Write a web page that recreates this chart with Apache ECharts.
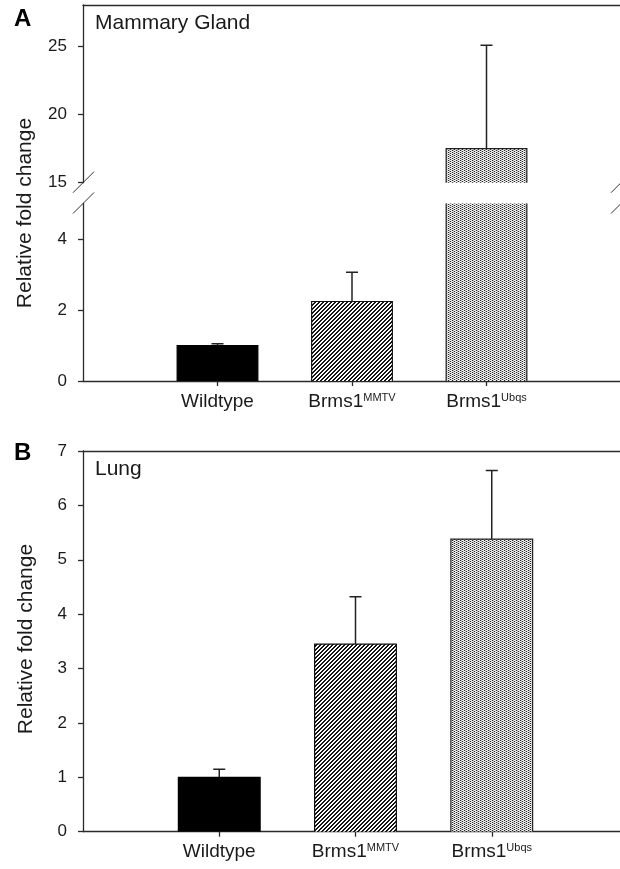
<!DOCTYPE html>
<html>
<head>
<meta charset="utf-8">
<script src="https://cdn.jsdelivr.net/npm/echarts@6/dist/echarts.min.js"></script>
<style>
  html, body { margin: 0; padding: 0; background: #fff; }
  #chart { width: 620px; height: 869px; }
</style>
</head>
<body>
<div id="chart"></div>
<script>
// ---------------- data ----------------
const categories = ['Wildtype', 'Brms1MMTV', 'Brms1Ubqs'];
const labelBase = ['Wildtype', 'Brms1', 'Brms1'];
const labelSup = ['', 'MMTV', 'Ubqs'];

const mammaryMean = [1.0, 2.24, 17.5];
const mammaryErr = [0.05, 0.82, 7.55];
const lungMean = [1.0, 3.45, 5.38];
const lungErr = [0.15, 0.87, 1.26];

const mammaryUpperTicks = [15, 20, 25];
const mammaryLowerTicks = [0, 2, 4];
const lungTicks = [0, 1, 2, 3, 4, 5, 6, 7];

const panelTitles = ['Mammary Gland', 'Lung'];
const panelLetters = ['A', 'B'];
const yTitle = 'Relative fold change';

// ---------------- styles ----------------
const FONT = '"Liberation Sans", Arial, sans-serif';
const INK = '#1a1a1a';

function makeTile(px) {
  const h = px.length, w = px[0].length;
  const c = document.createElement('canvas');
  c.width = w; c.height = h;
  const ctx = c.getContext('2d');
  const img = ctx.createImageData(w, h);
  for (let y = 0; y < h; y++) for (let x = 0; x < w; x++) {
    const v = px[y][x];
    const k = (y * w + x) * 4;
    img.data[k] = v; img.data[k + 1] = v; img.data[k + 2] = v; img.data[k + 3] = 255;
  }
  ctx.putImageData(img, 0, 0);
  return c;
}
function hatchPixels() {
  const p = [];
  for (let y = 0; y < 4; y++) {
    const row = [];
    for (let x = 0; x < 4; x++) row.push(((x + y) % 4) < 2 ? 20 : 255);
    p.push(row);
  }
  return p;
}
const stipplePixels = [
  [40, 190, 255, 215],
  [255, 190, 40, 215]
];
const barFill = [
  '#000',
  { image: makeTile(hatchPixels()), repeat: 'repeat' },
  { image: makeTile(stipplePixels), repeat: 'repeat' }
];
const barStroke = ['#000', '#111', '#222'];

const axisCats = [''].concat(categories).concat(['']);

function barData(means) {
  return categories.map((c, i) => [i + 1, means[i]]);
}
function errData(means, errs) {
  return categories.map((c, i) => [i + 1, means[i], means[i] + errs[i]]);
}
function renderBar(params, api) {
  const x = api.value(0);
  const k = Math.round(x) - 1;
  const base = api.coord([x, 0]);
  const top = api.coord([x, api.value(1)]);
  const w = api.size([1, 0])[0] * 0.6;
  const x0 = base[0] - w / 2, x1 = base[0] + w / 2;
  return {
    type: 'group',
    children: [
      { type: 'rect', shape: { x: x0, y: top[1], width: w, height: base[1] - top[1] },
        style: { fill: barFill[k] } },
      { type: 'polyline', shape: { points: [[x0, base[1]], [x0, top[1]], [x1, top[1]], [x1, base[1]]] },
        style: { fill: null, stroke: barStroke[k], lineWidth: 1.2 } }
    ]
  };
}
function renderErr(params, api) {
  const x = api.value(0);
  const p0 = api.coord([x, api.value(1)]);
  const p1 = api.coord([x, api.value(2)]);
  const st = { stroke: '#222', lineWidth: 1.5 };
  return {
    type: 'group',
    children: [
      { type: 'line', shape: { x1: p0[0], y1: p0[1], x2: p1[0], y2: p1[1] }, style: st },
      { type: 'line', shape: { x1: p1[0] - 6, y1: p1[1], x2: p1[0] + 6, y2: p1[1] }, style: st }
    ]
  };
}
function catLabel(v) {
  const i = categories.indexOf(v);
  if (i < 0) return '';
  return labelSup[i] ? '{b|' + labelBase[i] + '}{s|' + labelSup[i] + '}' : '{b|' + labelBase[i] + '}';
}
const richLabel = {
  b: { fontSize: 19, lineHeight: 21, fontFamily: FONT, color: INK },
  s: { fontSize: 11, lineHeight: 13, fontFamily: FONT, color: INK, verticalAlign: 'top', padding: [1, 0, 0, 0] }
};

const axisLineStyle = { color: '#2b2b2b', width: 1.3 };

function xBottom(gridIndex, showLabels) {
  return {
    type: 'category', gridIndex: gridIndex, data: axisCats, boundaryGap: false, position: 'bottom',
    axisLine: { show: showLabels, lineStyle: axisLineStyle },
    axisTick: { show: showLabels, length: 5, lineStyle: axisLineStyle, interval: (i, v) => v !== '' },
    axisLabel: { show: showLabels, interval: 0, margin: 10, formatter: catLabel, rich: richLabel },
    splitLine: { show: false }
  };
}
function xTop(gridIndex) {
  return {
    type: 'category', gridIndex: gridIndex, data: axisCats, boundaryGap: false, position: 'top',
    axisLine: { show: true, lineStyle: axisLineStyle },
    axisTick: { show: false }, axisLabel: { show: false }, splitLine: { show: false }
  };
}
function yAxis(gridIndex, min, max, ticks) {
  return {
    type: 'value', gridIndex: gridIndex, min: min, max: max,
    axisLine: { show: true, lineStyle: axisLineStyle },
    axisTick: { show: true, length: 5, inside: false, lineStyle: axisLineStyle, customValues: ticks },
    axisLabel: { margin: 16, fontSize: 17, fontFamily: FONT, color: INK, customValues: ticks },
    splitLine: { show: false }
  };
}

const chart = echarts.init(document.getElementById('chart'), null, { renderer: 'canvas' });

const option = {
  animation: false,
  backgroundColor: '#fff',
  grid: [
    { left: 83, width: 538, top: 5, height: 177.7, outerBoundsMode: 'none', containLabel: false },
    { left: 83, width: 538, top: 203.5, height: 177.5, outerBoundsMode: 'none', containLabel: false },
    { left: 83, width: 545, top: 451, height: 380.7, outerBoundsMode: 'none', containLabel: false }
  ],
  xAxis: [
    xBottom(0, false), xTop(0),
    xBottom(1, true),
    xBottom(2, true), xTop(2)
  ],
  yAxis: [
    yAxis(0, 15, 28, mammaryUpperTicks),
    yAxis(1, 0, 5, mammaryLowerTicks),
    yAxis(2, 0, 7, lungTicks)
  ],
  series: [
    { type: 'custom', xAxisIndex: 0, yAxisIndex: 0, clip: true, z: 3, renderItem: renderBar, data: barData(mammaryMean) },
    { type: 'custom', xAxisIndex: 2, yAxisIndex: 1, clip: true, z: 3, renderItem: renderBar, data: barData(mammaryMean) },
    { type: 'custom', xAxisIndex: 3, yAxisIndex: 2, clip: true, z: 3, renderItem: renderBar, data: barData(lungMean) },
    { type: 'custom', xAxisIndex: 0, yAxisIndex: 0, clip: true, z: 5, renderItem: renderErr, data: errData(mammaryMean, mammaryErr) },
    { type: 'custom', xAxisIndex: 2, yAxisIndex: 1, clip: true, z: 5, renderItem: renderErr, data: errData(mammaryMean, mammaryErr) },
    { type: 'custom', xAxisIndex: 3, yAxisIndex: 2, clip: true, z: 5, renderItem: renderErr, data: errData(lungMean, lungErr) }
  ],
  graphic: { elements: [
    { id: 'letA', type: 'text', x: 14, y: 7, style: { text: panelLetters[0], font: 'bold 24px ' + FONT, fill: '#000' } },
    { id: 'letB', type: 'text', x: 14, y: 441, style: { text: panelLetters[1], font: 'bold 24px ' + FONT, fill: '#000' } },
    { id: 'tA', type: 'text', x: 95, y: 13, style: { text: panelTitles[0], font: '21px ' + FONT, fill: INK } },
    { id: 'tB', type: 'text', x: 95, y: 459, style: { text: panelTitles[1], font: '21px ' + FONT, fill: INK } },
    { id: 'yA', type: 'text', x: 25, y: 213, rotation: Math.PI / 2,
      style: { text: yTitle, font: '21px ' + FONT, fill: INK, textAlign: 'center', textVerticalAlign: 'middle' } },
    { id: 'yB', type: 'text', x: 26, y: 639, rotation: Math.PI / 2,
      style: { text: yTitle, font: '21px ' + FONT, fill: INK, textAlign: 'center', textVerticalAlign: 'middle' } }
  ] }
};
chart.setOption(option);

// axis-break marks at the ends of the two mammary segments
const pUL = chart.convertToPixel({ xAxisIndex: 0, yAxisIndex: 0 }, [0, 15]);
const pUR = chart.convertToPixel({ xAxisIndex: 0, yAxisIndex: 0 }, [4, 15]);
const pLL = chart.convertToPixel({ xAxisIndex: 2, yAxisIndex: 1 }, [0, 5]);
const pLR = chart.convertToPixel({ xAxisIndex: 2, yAxisIndex: 1 }, [4, 5]);
const markStyle = { stroke: '#333', lineWidth: 1 };
function mark(id, p) {
  return { id: id, type: 'line', shape: { x1: p[0] - 10, y1: p[1] + 10, x2: p[0] + 11, y2: p[1] - 11 }, style: markStyle, z: 10 };
}
chart.setOption({ graphic: { elements: [mark('m1', pUL), mark('m2', pUR), mark('m3', pLL), mark('m4', pLR)] } });
</script>
</body>
</html>
